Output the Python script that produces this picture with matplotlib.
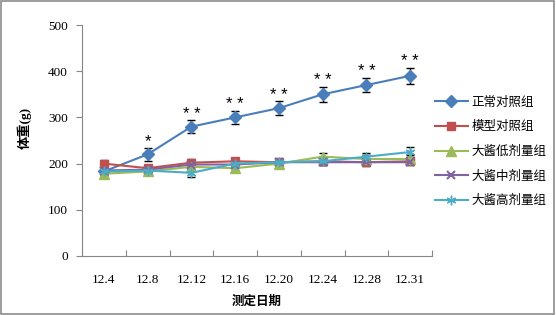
import numpy as np
import matplotlib
matplotlib.use("Agg")
import matplotlib.pyplot as plt
from matplotlib.patches import Rectangle
from matplotlib.lines import Line2D

# data
dates = ["12.4", "12.8", "12.12", "12.16", "12.20", "12.24", "12.28", "12.31"]
groups = ["正常对照组", "模型对照组", "大酱低剂量组", "大酱中剂量组", "大酱高剂量组"]

normal = [183, 220, 280, 300, 320, 350, 370, 390]
model = [200, 190, 202, 205, 203, 205, 203, 205]
low = [178, 183, 193, 190, 200, 215, 210, 210]
mid = [185, 187, 198, 198, 203, 203, 203, 203]
high = [183, 185, 180, 200, 203, 205, 215, 225]

normal_err = [8, 14, 14, 14, 15, 16, 16, 18]
model_err = [7, 7, 7, 7, 8, 8, 8, 8]
low_err = [6, 6, 6, 6, 7, 8, 8, 8]
mid_err = [6, 6, 6, 7, 7, 7, 7, 7]
high_err = [6, 6, 8, 8, 8, 8, 9, 10]

stars = ["", "*", "**", "**", "**", "**", "**", "**"]

series = [normal, model, low, mid, high]
errors = [normal_err, model_err, low_err, mid_err, high_err]
colors = ["#4A7EBB", "#C0504D", "#9BBB59", "#8064A2", "#4BACC6"]
markers = ["D", "s", "^", "x", (6, 2, 0)]
msizes = [6.5, 6, 6.5, 6, 7]

cjk = ["Liberation Serif", "Noto Sans CJK SC"]
axis_gray = "#868686"

fig = plt.figure(figsize=(5.56, 3.15), dpi=100)
fig.patches.append(Rectangle((0.002, 0.003), 0.995, 0.993, transform=fig.transFigure,
                             fill=False, edgecolor="#8c8c8c", linewidth=1.2))
ax = fig.add_axes([82 / 556, 1 - 256 / 315, 350 / 556, 231 / 315])

x = np.arange(len(dates))
handles = []
for vals, errs, c, m, ms, name in zip(series, errors, colors, markers, msizes, groups):
    mew = 1.5 if m == "x" else 1.0
    ax.errorbar(x, vals, yerr=errs, color=c, ecolor="black", elinewidth=1.0,
                capsize=3, capthick=1.0, marker=m, markersize=ms, markeredgecolor=c,
                markeredgewidth=mew, linewidth=1.5)
    handles.append(Line2D([], [], color=c, marker=m, markersize=ms, markeredgecolor=c,
                          markeredgewidth=mew, linewidth=1.5, label=name))

# significance marks over the normal group
for i, s in enumerate(stars):
    if s:
        ax.annotate(" ".join(s), (x[i], normal[i] + normal_err[i]), xytext=(0, -1),
                    textcoords="offset points", ha="center", va="bottom",
                    fontsize=12, family="Liberation Sans")

ax.set_xlim(-0.5, len(dates) - 0.5)
ax.set_ylim(0, 500)
ax.set_yticks([0, 100, 200, 300, 400, 500])
ax.set_xticks(np.arange(len(dates) + 1) - 0.5)
ax.set_xticklabels([])
ax.set_xticks(x, minor=True)
ax.set_xticklabels(dates, minor=True)
ax.tick_params(axis="x", which="major", direction="in", length=4, color=axis_gray)
ax.tick_params(axis="x", which="minor", length=0, pad=13, labelsize=9.5)
ax.tick_params(axis="y", direction="out", length=4, color=axis_gray, pad=6, labelsize=9.5)
for lab in ax.get_xticklabels(minor=True) + ax.get_yticklabels():
    lab.set_family("Liberation Serif")

for side in ["top", "right"]:
    ax.spines[side].set_visible(False)
for side in ["left", "bottom"]:
    ax.spines[side].set_color(axis_gray)

fig.text(257 / 556, 1 - 302 / 315, "测定日期", ha="center", va="center",
         fontsize=9, family=cjk, fontweight="bold")
fig.text(25 / 556, 1 - 128 / 315, "体重(g)", ha="center", va="center",
         rotation=90, fontsize=9.5, family=cjk, fontweight="bold")

ax.legend(handles=handles, loc="center left", bbox_to_anchor=(0.995, 0.45), frameon=False,
          prop={"family": cjk, "size": 9}, handlelength=2.6, labelspacing=1.0,
          handletextpad=0.3, borderaxespad=0)

fig.savefig("out.png", dpi=100)
